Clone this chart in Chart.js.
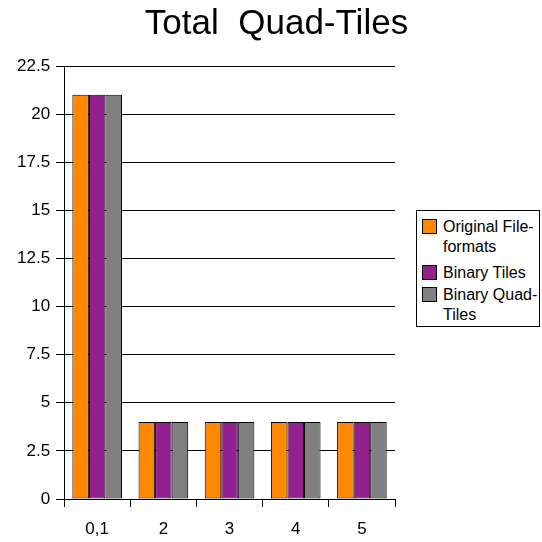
<!DOCTYPE html>
<html>
<head>
<meta charset="utf-8">
<script src="https://cdn.jsdelivr.net/npm/chart.js@4/dist/chart.umd.min.js"></script>
<style>
  html, body { margin: 0; padding: 0; background: #fff; }
  #wrap { position: relative; width: 542px; height: 542px; }
  #legend {
    position: absolute; left: 416px; top: 210px; width: 124px; height: 117px;
    border: 1px solid #000; background: #fff; box-sizing: border-box;
    font-family: "Liberation Sans", Arial, sans-serif; font-size: 16px;
    line-height: 19.5px; color: #000; padding: 6px 0 0 5px;
  }
  .item { display: flex; align-items: flex-start; }
  .sw { width: 13px; height: 13px; border: 1px solid #000; margin: 2px 6px 0 0; flex: none; }
  .txt { width: 100px; white-space: normal; }
</style>
</head>
<body>
<div id="wrap">
  <canvas id="c" width="542" height="542"></canvas>
  <div id="legend"></div>
</div>
<script>
const categories = ["0,1", "2", "3", "4", "5"];
const originalFileformats = [21, 4, 4, 4, 4];
const binaryTiles = [21, 4, 4, 4, 4];
const binaryQuadTiles = [21, 4, 4, 4, 4];
const seriesNames = ["Original File-formats", "Binary Tiles", "Binary Quad-Tiles"];
const seriesColors = ["#ff8800", "#93208f", "#808080"];

const seriesValues = [originalFileformats, binaryTiles, binaryQuadTiles];
const tickFont = { family: "Liberation Sans", size: 17, lineHeight: 1.0 };

const chart = new Chart(document.getElementById("c"), {
  type: "bar",
  data: {
    labels: categories,
    datasets: seriesValues.map((vals, i) => ({
      label: seriesNames[i],
      data: vals,
      backgroundColor: seriesColors[i],
      borderColor: "#000",
      borderWidth: 1,
      borderSkipped: false,
      categoryPercentage: 0.75,
      barPercentage: 1.0
    }))
  },
  options: {
    responsive: false,
    animation: false,
    layout: { padding: { left: 11, right: 0, top: 0, bottom: 0 } },
    plugins: {
      legend: { display: false },
      tooltip: { enabled: false },
      title: {
        display: true,
        text: "Total  Quad-Tiles",
        color: "#000",
        font: { family: "Liberation Sans", size: 35, weight: "normal" },
        padding: { top: 3, bottom: 21 }
      }
    },
    scales: {
      x: {
        offset: true,
        grid: { display: true, offset: true, drawOnChartArea: false, drawTicks: true, tickLength: 8, color: "#000", lineWidth: 1 },
        border: { display: true, color: "#000", width: 1 },
        ticks: { color: "#000", font: tickFont, padding: 14 },
        afterFit: (scale) => { scale.height = 43; }
      },
      y: {
        min: 0, max: 22.5,
        grid: { color: "#000", lineWidth: 1, tickLength: 8 },
        border: { display: true, color: "#000", width: 1 },
        ticks: { stepSize: 2.5, color: "#000", font: tickFont, padding: 6 }
      },
      // empty right-hand axis that reserves the room beside the plot for the legend
      side: {
        position: "right",
        display: true,
        grid: { display: false, drawTicks: false },
        border: { display: false },
        ticks: { display: false },
        afterFit: (scale) => { scale.width = 147; }
      }
    }
  }
});

// legend built from the dataset definitions
const rowGaps = [7, 2.5, 0];
const lg = document.getElementById("legend");
chart.data.datasets.forEach((ds, i) => {
  const row = document.createElement("div");
  row.className = "item";
  row.style.marginBottom = rowGaps[i] + "px";
  const sw = document.createElement("div");
  sw.className = "sw";
  sw.style.background = ds.backgroundColor;
  const t = document.createElement("div");
  t.className = "txt";
  t.textContent = ds.label;
  row.appendChild(sw);
  row.appendChild(t);
  lg.appendChild(row);
});
</script>
</body>
</html>
